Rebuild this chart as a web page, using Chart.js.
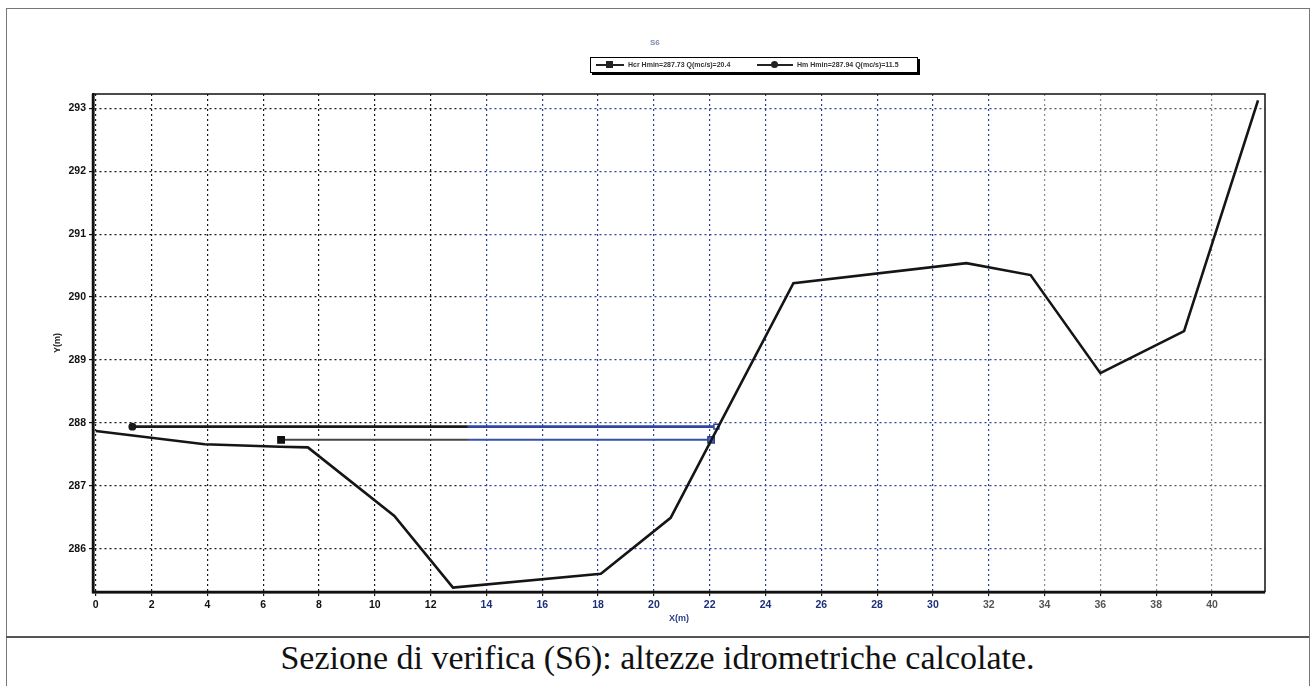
<!DOCTYPE html>
<html>
<head>
<meta charset="utf-8">
<script src="https://cdn.jsdelivr.net/npm/chart.js@4.4.1/dist/chart.umd.min.js"></script>
<style>
  html,body{margin:0;padding:0;background:#fff;}
  body{width:1315px;height:686px;position:relative;overflow:hidden;font-family:"Liberation Sans",Arial,sans-serif;}
  #frame{position:absolute;left:6px;top:8px;width:1302px;height:700px;border:1px solid #777;border-bottom:none;}
  #sep{position:absolute;left:6px;top:636px;width:1303px;height:0;border-top:2px solid #555;}
  #wrap{position:absolute;left:20px;top:20px;width:1270px;height:610px;}
  #title{position:absolute;left:650px;top:38px;font-size:8px;color:#7f8db5;font-weight:bold;}
  #legend{position:absolute;left:590px;top:57px;height:14px;width:326px;border:1px solid #000;box-shadow:2px 2px 0 #000;background:#fff;
          font-size:7px;line-height:14px;white-space:nowrap;color:#333;font-weight:bold;}
  .it{position:absolute;top:0;}
  .ln{position:absolute;top:6px;height:2px;background:#222;}
  .mk{position:absolute;}
  #caption{position:absolute;left:0;width:1315px;top:638px;text-align:center;font-family:"Liberation Serif","Times New Roman",serif;font-size:34px;line-height:40px;color:#111;}
</style>
</head>
<body>
<div id="frame"></div>
<div id="wrap"><canvas id="c"></canvas></div>
<div id="title">S6</div>
<div id="legend">
  <span class="ln" style="left:5px;width:28px;"></span>
  <span class="mk" style="left:15px;top:3px;width:7px;height:7px;background:#222;"></span>
  <span class="it" style="left:37px;">Hcr Hmin=287.73 Q(mc/s)=20.4</span>
  <span class="ln" style="left:166px;width:36px;"></span>
  <span class="mk" style="left:180px;top:3px;width:7px;height:7px;border-radius:50%;background:#222;"></span>
  <span class="it" style="left:206px;">Hm Hmin=287.94 Q(mc/s)=11.5</span>
</div>
<div id="sep"></div>
<div id="caption">Sezione di verifica (S6): altezze idrometriche calcolate.</div>
<script>
// ---- data ----
const groundX = [0, 3.9, 6.6, 7.6, 10.7, 12.8, 18.1, 20.6, 25.0, 31.2, 33.5, 36.0, 39.0, 41.65];
const groundY = [287.87, 287.66, 287.62, 287.61, 286.52, 285.38, 285.60, 286.49, 290.22, 290.54, 290.35, 288.79, 289.46, 293.13];
const hmX = [1.31, 22.24];
const hmY = [287.94, 287.94];
const hcrX = [6.64, 22.05];
const hcrY = [287.73, 287.73];
const xTicks = [0,2,4,6,8,10,12,14,16,18,20,22,24,26,28,30,32,34,36,38,40];
const yTicks = [286,287,288,289,290,291,292,293];
const xTitle = 'X(m)';
const yTitle = 'Y(m)';

const pts = (xs, ys) => xs.map((x, i) => ({x: x, y: ys[i]}));

function splitGradient(ctx, c1, c2, c3) {
  const chart = ctx.chart;
  const area = chart.chartArea;
  if (!area) return c1;
  const xs = chart.scales.x;
  const g = chart.ctx.createLinearGradient(area.left, 0, area.right, 0);
  const f1 = (xs.getPixelForValue(13.3) - area.left) / (area.right - area.left);
  const f2 = (xs.getPixelForValue(32.5) - area.left) / (area.right - area.left);
  g.addColorStop(0, c1); g.addColorStop(f1, c1);
  g.addColorStop(Math.min(1, f1 + 0.001), c2); g.addColorStop(f2, c2);
  g.addColorStop(Math.min(1, f2 + 0.001), c3); g.addColorStop(1, c3);
  return g;
}

const framePlugin = {
  id: 'frame',
  afterDraw(chart) {
    const a = chart.chartArea, ctx = chart.ctx;
    ctx.save();
    ctx.setLineDash([]);
    ctx.strokeStyle = '#111';
    ctx.lineWidth = 1.5;
    ctx.beginPath();
    ctx.moveTo(a.left, a.top); ctx.lineTo(a.right, a.top); ctx.lineTo(a.right, a.bottom);
    ctx.stroke();
    ctx.lineWidth = 2.5;
    ctx.beginPath();
    ctx.moveTo(a.left, a.top); ctx.lineTo(a.left, a.bottom); ctx.lineTo(a.right, a.bottom);
    ctx.stroke();
    ctx.restore();
  }
};

new Chart(document.getElementById('c'), {
  type: 'scatter',
  data: {
    datasets: [
      {
        label: 'Terreno',
        data: pts(groundX, groundY),
        showLine: true,
        borderColor: '#151515',
        borderWidth: 2.6,
        pointRadius: 0,
        tension: 0,
        order: 1
      },
      {
        label: 'Hm',
        data: pts(hmX, hmY),
        showLine: true,
        borderColor: (ctx) => splitGradient(ctx, '#1a1a1a', '#2f47a0', '#2f47a0'),
        borderWidth: 2.6,
        pointStyle: ['circle', 'rect'],
        pointRadius: [3.2, 3.5],
        pointBackgroundColor: ['#1a1a1a', '#ffffff'],
        pointBorderColor: ['#1a1a1a', '#2f47a0'],
        pointBorderWidth: 1.5,
        order: 2
      },
      {
        label: 'Hcr',
        data: pts(hcrX, hcrY),
        showLine: true,
        borderColor: (ctx) => splitGradient(ctx, '#444', '#3550a8', '#3550a8'),
        borderWidth: 2,
        pointStyle: 'rect',
        pointRadius: [4.5, 4.5],
        pointBackgroundColor: ['#111', '#5a6fb8'],
        pointBorderColor: ['#111', '#2a3f90'],
        pointBorderWidth: 1.5,
        order: 3
      }
    ]
  },
  options: {
    responsive: true,
    maintainAspectRatio: false,
    animation: false,
    layout: { padding: { top: 74, right: 25, left: 0, bottom: 0 } },
    plugins: { legend: { display: false }, title: { display: false }, tooltip: { enabled: false } },
    scales: {
      x: {
        type: 'linear',
        min: -0.1,
        max: 41.9,
        afterBuildTicks: (s) => { s.ticks = xTicks.map(v => ({value: v})); },
        afterFit: (s) => { s.height = 38; },
        border: { display: true, color: '#111', width: 2.5, dash: [2, 3] },
        grid: {
          color: (ctx) => { const v = ctx.tick ? ctx.tick.value : 0; return v < 13 ? '#1a1a1a' : (v <= 32 ? '#2c4096' : '#8a8a8a'); },
          lineWidth: 1.2,
          tickLength: 4,
          tickColor: '#111',
          drawTicks: true
        },
        ticks: {
          padding: 3,
          font: { family: 'Liberation Sans', size: 10.5, weight: 'bold' },
          color: (ctx) => { const v = ctx.tick ? ctx.tick.value : 0; return v < 13 ? '#111' : (v <= 30 ? '#1e2f7a' : '#555'); },
          callback: (v) => String(v),
          maxRotation: 0
        },
        title: { display: true, text: xTitle, color: '#2a3a8a', font: { family: 'Liberation Sans', size: 9, weight: 'bold' }, padding: { top: 0, bottom: 6 } }
      },
      y: {
        type: 'linear',
        min: 285.31,
        max: 293.23,
        afterBuildTicks: (s) => { s.ticks = yTicks.map(v => ({value: v})); },
        afterFit: (s) => { s.width = 73; },
        border: { display: true, color: '#111', width: 2.5, dash: [2, 3] },
        grid: {
          color: (ctx) => splitGradient(ctx, '#1a1a1a', '#2c4096', '#555'),
          lineWidth: 1.2,
          tickLength: 4,
          tickColor: '#111'
        },
        ticks: {
          padding: 3,
          font: { family: 'Liberation Sans', size: 10.5, weight: 'bold' },
          color: '#111',
          callback: (v) => String(v)
        },
        title: { display: true, text: yTitle, color: '#222', font: { family: 'Liberation Sans', size: 9, weight: 'bold' }, padding: { top: 32, bottom: 0 } }
      }
    }
  },
  plugins: [framePlugin]
});
</script>
</body>
</html>
